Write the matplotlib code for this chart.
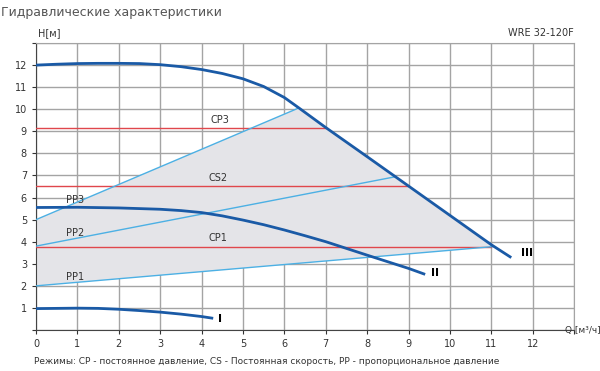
import matplotlib
matplotlib.use("Agg")
import matplotlib.pyplot as plt
import numpy as np

# pump curves (Q, H)
q3 = [0, 0.5, 1, 1.5, 2, 2.5, 3, 3.5, 4, 4.5, 5, 5.5, 6, 6.35, 7, 8, 9, 10, 11, 11.48]
h3 = [12.0, 12.04, 12.07, 12.08, 12.08, 12.07, 12.02, 11.93, 11.8, 11.62, 11.38, 11.03, 10.53, 10.06,
      9.17, 7.85, 6.52, 5.19, 3.86, 3.28]
q2 = [0, 1, 2, 3, 3.5, 4, 4.5, 5, 5.5, 6, 6.5, 7, 8, 9, 9.4]
h2 = [5.55, 5.56, 5.53, 5.47, 5.41, 5.32, 5.17, 4.98, 4.77, 4.53, 4.27, 4.0, 3.39, 2.79, 2.52]
q1 = [0, 1, 1.5, 2, 2.5, 3, 3.5, 4, 4.28]
h1 = [0.97, 0.99, 0.98, 0.94, 0.88, 0.81, 0.72, 0.61, 0.53]

# proportional pressure lines
pp_q = {"PP1": [0, 11.05], "PP2": [0, 8.7], "PP3": [0, 6.35]}
pp_h = {"PP1": [2.0, 3.78], "PP2": [3.8, 6.95], "PP3": [5.0, 10.06]}
# constant pressure / speed lines
cp_h = {"CP3": 9.13, "CS2": 6.54, "CP1": 3.78}
cp_qend = {"CP3": 7.03, "CS2": 8.98, "CP1": 11.0}

dark = "#1a5aa6"
light = "#4cb0e4"
red = "#e0474c"

fig = plt.figure(figsize=(6, 3.71), dpi=100)
ax = fig.add_axes([0.06, 0.1105, 0.897, 0.7735])

# grey area: PP1 below, PP3 upper left, curve III upper right
qa = np.array(q3)
ha = np.array(h3)
seg = (qa > 6.35) & (qa < 11.05)
poly_q = [0, 6.35] + list(qa[seg]) + [11.05, 0]
poly_h = [5.0, 10.06] + list(ha[seg]) + [3.78, 2.0]
ax.fill(poly_q, poly_h, color="#e4e4e8", zorder=1, lw=0)

for k in cp_h:
    ax.plot([0, cp_qend[k]], [cp_h[k], cp_h[k]], color=red, lw=1.0, zorder=3)
for k in pp_q:
    ax.plot(pp_q[k], pp_h[k], color=light, lw=1.0, zorder=3)

for q, h in [(q3, h3), (q2, h2), (q1, h1)]:
    ax.plot(q, h, color=dark, lw=2.0, zorder=4, solid_capstyle="butt", solid_joinstyle="round")

ax.text(11.72, 3.5, "III", fontsize=8, fontweight="bold", va="center", ha="left")
ax.text(9.55, 2.6, "II", fontsize=8, fontweight="bold", va="center", ha="left")
ax.text(4.4, 0.5, "I", fontsize=8, fontweight="bold", va="center", ha="left")

lbl = {"CP3": (4.45, 9.5), "CS2": (4.4, 6.9), "CP1": (4.4, 4.15),
       "PP3": (0.95, 5.9), "PP2": (0.95, 4.38), "PP1": (0.95, 2.4)}
for k, (x, y) in lbl.items():
    ax.text(x, y, k, fontsize=7, color="#333333", ha="center", va="center", zorder=5)

ax.set_xlim(0, 13)
ax.set_ylim(0, 13)
ax.set_xticks(range(14))
ax.set_yticks(range(14))
ax.set_xticklabels([str(i) for i in range(13)] + [""])
ax.set_yticklabels([""] + [str(i) for i in range(1, 13)] + [""])
ax.grid(True, color="#a4a4a4", lw=1.0, zorder=0)
ax.set_axisbelow(True)
ax.tick_params(labelsize=7, length=3, color="#333333", labelcolor="#333333")
for s in ["top", "right"]:
    ax.spines[s].set_color("#a4a4a4")
for s in ["left", "bottom"]:
    ax.spines[s].set_color("#444444")

fig.text(0.002, 0.985, "Гидравлические характеристики", fontsize=9, color="#555555", va="top", ha="left")
fig.text(0.063, 0.91, "H[м]", fontsize=7, color="#333333", va="center")
fig.text(0.957, 0.91, "WRE 32-120F", fontsize=7, color="#333333", va="center", ha="right")
fig.text(0.942, 0.1105, "Q [м³/ч]", fontsize=6.5, color="#333333", va="center", ha="left")
fig.text(0.057, 0.025, "Режимы: CP - постоянное давление, CS - Постоянная скорость, PP - пропорциональное давление",
         fontsize=6.5, color="#333333", va="center", ha="left")

fig.savefig("out.png", dpi=100)
